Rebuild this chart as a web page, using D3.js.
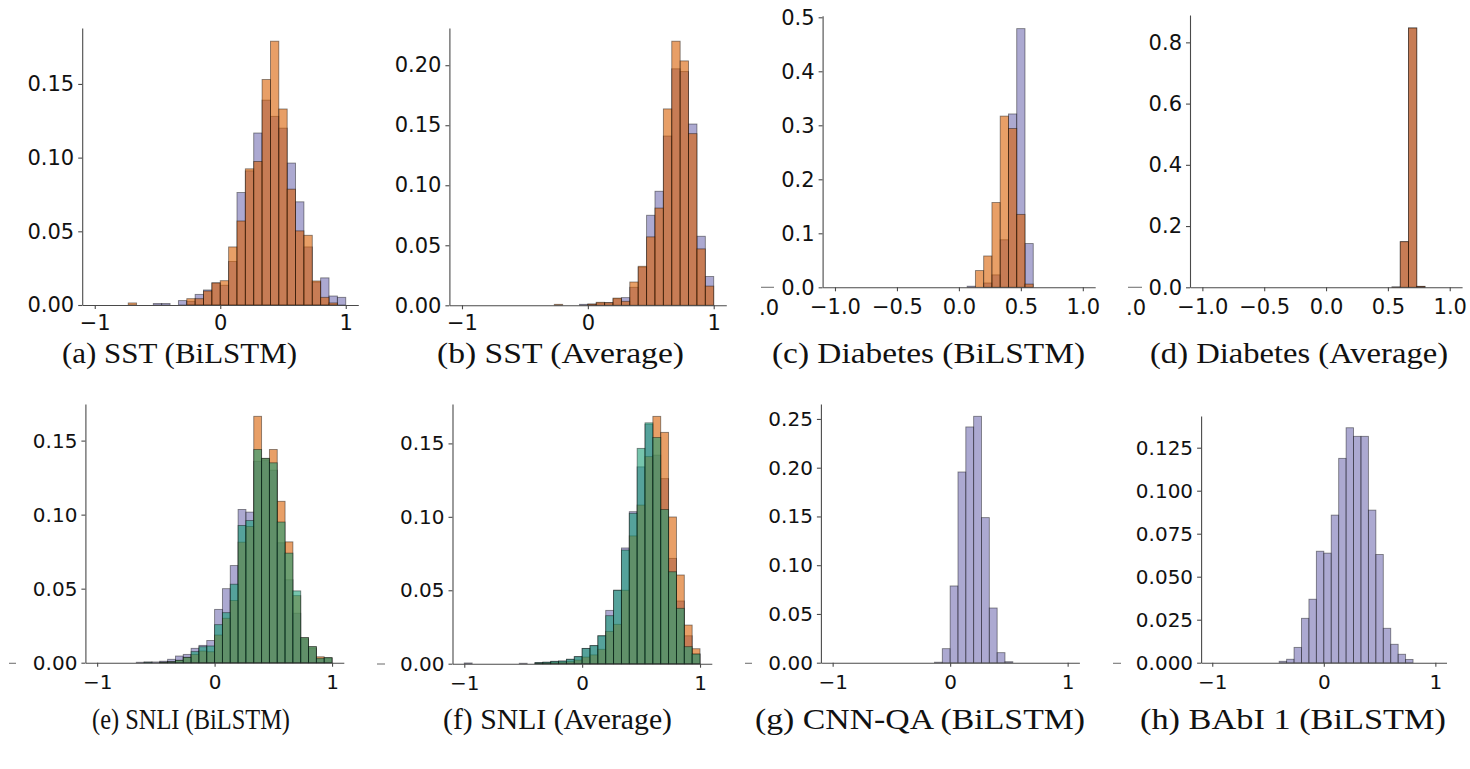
<!DOCTYPE html>
<html>
<head>
<meta charset="utf-8">
<script src="https://cdn.jsdelivr.net/npm/d3@7"></script>
<style>
  html, body { margin: 0; padding: 0; background: #fff; }
  svg { display: block; }
  .axis path, .axis line { stroke: #4a4a4a; stroke-width: 1.1; }
  .axis text { font-family: "DejaVu Sans", sans-serif; fill: #111; }
  .caption { font-family: "Liberation Serif", "Times New Roman", serif; fill: #111; }
</style>
</head>
<body>
<svg id="fig" width="1470" height="769"></svg>
<script>
// ---------------------------------------------------------------
// Histogram heights (fraction of tokens) for 30 equal bins on [-1, 1]
// ---------------------------------------------------------------
const sstBilstmA   = [0,0,0,0,0,0,0,0.001,0.001,0,0.003,0.0025,0.0072,0.0102,0.015,0.0134,0.0295,0.0763,0.091,0.1167,0.139,0.128,0.12,0.0963,0.070,0.0394,0.0156,0.0184,0.0061,0.0052];
const sstBilstmB   = [0,0,0,0,0.0014,0,0,0,0,0,0,0.0043,0.0043,0.0095,0.015,0.0165,0.0394,0.057,0.0924,0.0974,0.153,0.179,0.133,0.0786,0.0503,0.0473,0.0163,0.0052,0.0014,0];

const sstAverageA  = [0,0,0,0,0,0,0,0,0,0,0,0,0,0,0.0008,0.001,0.002,0.0022,0.0055,0.0064,0.015,0.0317,0.075,0.095,0.141,0.197,0.1947,0.151,0.0575,0.024];
const sstAverageB  = [0,0,0,0,0,0,0,0,0,0,0,0.0008,0,0,0,0.001,0.0025,0.0022,0.006,0.0033,0.0194,0.0325,0.057,0.081,0.1636,0.220,0.2036,0.143,0.047,0.016];

const diabBilstmA  = [0,0,0,0,0,0,0,0,0,0,0,0,0,0,0,0,0.002,0,0.008,0.023,0.088,0.321,0.479,0.081,0,0,0,0,0,0];
const diabBilstmB  = [0,0,0,0,0,0,0,0,0,0,0,0,0,0,0,0,0,0.031,0.058,0.157,0.317,0.294,0.135,0.006,0,0,0,0,0,0];

const diabAverageA = [0,0,0,0,0,0,0,0,0,0,0,0,0,0,0,0,0,0,0,0,0,0,0,0.001,0.149,0.847,0.003,0,0,0];
const diabAverageB = [0,0,0,0,0,0,0,0,0,0,0,0,0,0,0,0,0,0,0,0,0,0,0,0.001,0.149,0.847,0.003,0,0,0];

const snliBilstmA  = [0,0,0,0,0,0.0003,0.0005,0.0005,0.001,0.0023,0.0045,0.0056,0.0097,0.0117,0.015,0.036,0.050,0.0656,0.1035,0.1017,0.136,0.137,0.130,0.081,0.056,0.0334,0.016,0.0095,0.0025,0.003];
const snliBilstmB  = [0,0,0,0,0,0,0,0,0.0003,0.0007,0.0016,0.0036,0.0056,0.0079,0.0074,0.0187,0.030,0.042,0.0814,0.092,0.1664,0.138,0.144,0.109,0.0816,0.0453,0.0169,0.0108,0.004,0.0034];
const snliBilstmC  = [0,0,0,0,0,0,0.0003,0,0.0003,0.0007,0.0016,0.0036,0.0075,0.0108,0.0113,0.0257,0.0338,0.053,0.0927,0.096,0.144,0.138,0.135,0.095,0.074,0.0485,0.0169,0.0108,0.003,0.0034];

const snliAverageA = [0.0005,0,0,0,0,0,0,0.0003,0,0.0007,0.001,0.0016,0.0018,0.003,0.0048,0.0104,0.0123,0.019,0.0363,0.050,0.0788,0.1035,0.134,0.163,0.142,0.126,0.0717,0.0427,0.019,0.0066];
const snliAverageB = [0,0,0,0,0,0,0,0,0,0.0003,0.0005,0.0008,0.001,0.0014,0.0025,0.0045,0.006,0.0098,0.022,0.0268,0.050,0.087,0.108,0.141,0.1684,0.1575,0.0999,0.0604,0.0263,0.0102];
const snliAverageC = [0,0,0,0,0,0,0,0,0,0.0007,0.001,0.0016,0.0018,0.003,0.0048,0.0104,0.0123,0.019,0.0327,0.050,0.0774,0.1024,0.1466,0.164,0.154,0.105,0.0626,0.0377,0.0116,0.0066];

const cnnBilstmA   = [0,0,0,0,0,0,0,0,0,0,0,0,0,0.0005,0.0144,0.0787,0.1956,0.2418,0.2527,0.1488,0.0561,0.0103,0.001,0,0,0,0,0,0,0];

const babiBilstmA  = [0,0,0,0,0,0,0,0,0,0.0008,0.002,0.0089,0.0258,0.0369,0.0648,0.0637,0.0858,0.1188,0.1366,0.1316,0.1316,0.0887,0.0629,0.02,0.0107,0.0049,0.0019,0,0,0];

// Tick values and their printed labels
const xTicksCoarse      = [-1, 0, 1];
const xTickLabelsCoarse = ["\u22121", "0", "1"];
const xTicksFine        = [-1, -0.5, 0, 0.5, 1];
const xTickLabelsFine   = ["\u22121.0", "\u22120.5", "0.0", "0.5", "1.0"];

const yTicks005      = [0, 0.05, 0.10, 0.15];
const yTickLabels005 = ["0.00", "0.05", "0.10", "0.15"];
const yTicks020      = [0, 0.05, 0.10, 0.15, 0.20];
const yTickLabels020 = ["0.00", "0.05", "0.10", "0.15", "0.20"];
const yTicks025      = [0, 0.05, 0.10, 0.15, 0.20, 0.25];
const yTickLabels025 = ["0.00", "0.05", "0.10", "0.15", "0.20", "0.25"];
const yTicks05       = [0, 0.1, 0.2, 0.3, 0.4, 0.5];
const yTickLabels05  = ["0.0", "0.1", "0.2", "0.3", "0.4", "0.5"];
const yTicks08       = [0, 0.2, 0.4, 0.6, 0.8];
const yTickLabels08  = ["0.0", "0.2", "0.4", "0.6", "0.8"];
const yTicks0125     = [0, 0.025, 0.05, 0.075, 0.1, 0.125];
const yTickLabels0125= ["0.000", "0.025", "0.050", "0.075", "0.100", "0.125"];

// Sub-figure captions
const captions = [
  "(a) SST (BiLSTM)", "(b) SST (Average)", "(c) Diabetes (BiLSTM)", "(d) Diabetes (Average)",
  "(e) SNLI (BiLSTM)", "(f) SNLI (Average)", "(g) CNN-QA (BiLSTM)", "(h) BAbI 1 (BiLSTM)"
];

// ---------------------------------------------------------------
// Appearance
// ---------------------------------------------------------------
const seriesColors = ["#7570b3", "#d95f02", "#1b9e77"];
const barAlpha = 0.6;

// 30 equal-width bins spanning [-1, 1]
const binEdges = d3.range(31).map(k => -1 + k * 2 / 30);

// Panel frames: axis extents in page pixels, tick label size, tick padding, caption box
const panels = [
  { series: [sstBilstmA, sstBilstmB],                 xt: [xTicksCoarse, xTickLabelsCoarse], yt: [yTicks005, yTickLabels005],  left: 82.2,  right: 358.3,  top: 28,  bottom: 305,   fs: 21, pad: 6, cap: { x: 179.5, y: 363, w: 235 } },
  { series: [sstAverageA, sstAverageB],               xt: [xTicksCoarse, xTickLabelsCoarse], yt: [yTicks020, yTickLabels020],  left: 449.4, right: 726.3,  top: 28,  bottom: 305.3, fs: 21, pad: 6, cap: { x: 560.5, y: 363, w: 247 } },
  { series: [diabBilstmA, diabBilstmB],               xt: [xTicksFine, xTickLabelsFine],     yt: [yTicks05, yTickLabels05],    left: 822.6, right: 1095.2, top: 15.7, bottom: 287.3, fs: 21, pad: 8, cap: { x: 928.5, y: 363, w: 313 } },
  { series: [diabAverageA, diabAverageB],             xt: [xTicksFine, xTickLabelsFine],     yt: [yTicks08, yTickLabels08],    left: 1190,  right: 1462.1, top: 15,  bottom: 287.3, fs: 21, pad: 8, cap: { x: 1299,  y: 363, w: 298 } },
  { series: [snliBilstmA, snliBilstmB, snliBilstmC],   xt: [xTicksCoarse, xTickLabelsCoarse], yt: [yTicks005, yTickLabels005],  left: 85.4,  right: 343.8,  top: 404, bottom: 662.7, fs: 20, pad: 8, cap: { x: 191,   y: 729, w: 198 } },
  { series: [snliAverageA, snliAverageB, snliAverageC],xt: [xTicksCoarse, xTickLabelsCoarse], yt: [yTicks005, yTickLabels005],  left: 452.5, right: 711.8,  top: 404, bottom: 663.7, fs: 20, pad: 8, cap: { x: 557.5, y: 729, w: 229 } },
  { series: [cnnBilstmA],                             xt: [xTicksCoarse, xTickLabelsCoarse], yt: [yTicks025, yTickLabels025],  left: 820.9, right: 1079.4, top: 404, bottom: 662.7, fs: 20, pad: 8, cap: { x: 920,   y: 729, w: 330 } },
  { series: [babiBilstmA],                            xt: [xTicksCoarse, xTickLabelsCoarse], yt: [yTicks0125, yTickLabels0125],left: 1201.1,right: 1446.5, top: 416, bottom: 662.7, fs: 20, pad: 8, cap: { x: 1293,  y: 729, w: 306 } }
];

const svg = d3.select("#fig");

panels.forEach((p, i) => {
  const g = svg.append("g");

  const x = d3.scaleLinear().domain([-1.1, 1.1]).range([p.left, p.right]);
  const ymax = d3.max(p.series.flat()) * 1.05;
  const y = d3.scaleLinear().domain([0, ymax]).range([p.bottom, p.top]);

  // bars, one layer per series, later series drawn over earlier ones
  p.series.forEach((vals, s) => {
    g.append("g")
      .selectAll("rect")
      .data(vals.map((v, k) => ({ v, x0: binEdges[k], x1: binEdges[k + 1] })).filter(d => d.v > 0))
      .join("rect")
      .attr("x", d => x(d.x0))
      .attr("width", d => x(d.x1) - x(d.x0))
      .attr("y", d => y(d.v))
      .attr("height", d => y(0) - y(d.v))
      .attr("fill", seriesColors[s])
      .attr("fill-opacity", barAlpha)
      .attr("stroke", "#000")
      .attr("stroke-opacity", 0.45)
      .attr("stroke-width", 0.9);
  });

  // left spine + ticks
  const yAxis = g.append("g")
    .attr("class", "axis")
    .attr("transform", `translate(${p.left},0)`)
    .call(d3.axisLeft(y).tickValues(p.yt[0]).tickFormat((d, j) => p.yt[1][j])
      .tickSize(4).tickPadding(4).tickSizeOuter(0));
  yAxis.selectAll("text").style("font-size", p.fs + "px");

  // bottom spine + ticks
  const xAxis = g.append("g")
    .attr("class", "axis")
    .attr("transform", `translate(0,${p.bottom})`)
    .call(d3.axisBottom(x).tickValues(p.xt[0]).tickFormat((d, j) => p.xt[1][j])
      .tickSize(4).tickPadding(p.pad).tickSizeOuter(0));
  xAxis.selectAll("text").style("font-size", p.fs + "px");

  // caption
  svg.append("text")
    .attr("class", "caption")
    .attr("x", p.cap.x)
    .attr("y", p.cap.y)
    .attr("text-anchor", "middle")
    .attr("textLength", p.cap.w)
    .attr("lengthAdjust", "spacingAndGlyphs")
    .style("font-size", "30px")
    .text(captions[i]);
});

// Clipped edge fragments of neighbouring figures
const edgeDashes = [
  [761, 774, 287.3], [1128, 1142, 287.3],
  [9, 16, 663.3], [377, 385, 664], [745, 752, 663.3], [1113, 1121, 663.3]
];
svg.append("g").selectAll("line")
  .data(edgeDashes).join("line")
  .attr("x1", d => d[0]).attr("x2", d => d[1])
  .attr("y1", d => d[2]).attr("y2", d => d[2])
  .attr("stroke", "#777").attr("stroke-width", 1.1);

svg.append("g").selectAll("text")
  .data([[769, 315], [1136, 315]]).join("text")
  .attr("x", d => d[0]).attr("y", d => d[1])
  .attr("text-anchor", "middle")
  .style("font-family", "DejaVu Sans, sans-serif")
  .style("font-size", "21px")
  .attr("fill", "#111")
  .text(".0");
</script>
</body>
</html>
